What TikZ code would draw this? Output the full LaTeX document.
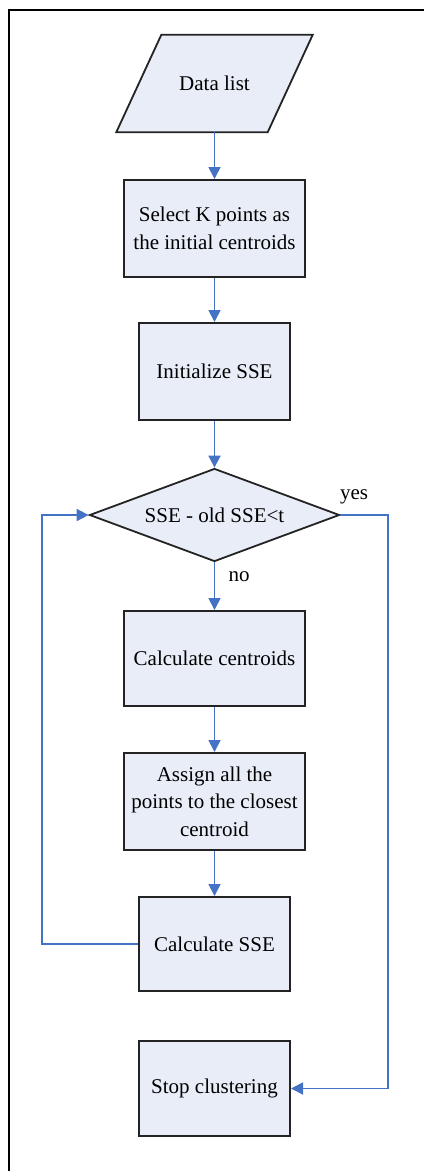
\documentclass[tikz,border=0pt]{standalone}
\usepackage{fontspec}
\setmainfont{Liberation Serif}
\usetikzlibrary{shapes.geometric,arrows.meta,calc}
\definecolor{boxfill}{RGB}{232,237,247}
\definecolor{linkblue}{RGB}{68,114,196}
\definecolor{boxline}{RGB}{35,35,35}
\begin{document}
\begin{tikzpicture}[x=1pt,y=-1pt,
  every node/.style={font=\fontsize{21}{27.5}\selectfont},
  stepbox/.style={draw=boxline,line width=2pt,fill=boxfill,rectangle,align=center,inner sep=0pt},
  decide/.style={draw=boxline,line width=1.8pt,fill=boxfill,diamond,inner sep=0pt,aspect=2.69,minimum width=250pt,minimum height=93pt},
  link/.style={draw=linkblue,line width=1.8pt,-{Triangle[width=12pt,length=12pt]}},
  lbl/.style={inner sep=0pt}]
\useasboundingbox (0,0) rectangle (424,1171);
\draw[line width=2.2pt] (9,1171) -- (9,10) -- (424,10);

% data list (parallelogram)
\node[inner sep=0pt,minimum width=151pt,minimum height=97pt] (data) at (214.5,83.5) {};
\draw[draw=boxline,line width=1.8pt,fill=boxfill]
  ($(data.north west)+(22.5,0)$) -- ($(data.north east)+(22.5,0)$) --
  ($(data.south east)+(-22.5,0)$) -- ($(data.south west)+(-22.5,0)$) -- cycle;
\node[inner sep=0pt] (datatext) at (data.center) {Data list};

\node[stepbox,minimum width=181pt,minimum height=97pt] (sel) at (214.5,228.5) {Select K points as\\the initial centroids};
\node[stepbox,minimum width=151pt,minimum height=97pt] (init) at (214.5,371.5) {Initialize SSE};
\node[decide] (diam) at (214.5,515) {SSE - old SSE<t};
\node[stepbox,minimum width=181pt,minimum height=95pt] (cent) at (214.5,658.5) {Calculate centroids};
\node[stepbox,minimum width=181pt,minimum height=97pt] (assign) at (214.5,801.5) {Assign all the\\points to the closest\\centroid};
\node[stepbox,minimum width=151pt,minimum height=94pt] (csse) at (214.5,944) {Calculate SSE};
\node[stepbox,minimum width=151pt,minimum height=95pt] (stop) at (214.5,1088.5) {Stop clustering};

\draw[link] (data.south) -- (sel.north);
\draw[link] (sel.south) -- (init.north);
\draw[link] (init.south) -- (diam.north);
\draw[link] (diam.south) -- (cent.north);
\draw[link] (cent.south) -- (assign.north);
\draw[link] (assign.south) -- (csse.north);
\draw[link] (csse.west) -- ++(-96,0) |- (diam.west);
\draw[link] (diam.east) -- ++(47.5,0) |- (stop.east);

\node[lbl] (yes) at (354,497) {yes};
\node[lbl] (no) at (239,577) {no};
\end{tikzpicture}
\end{document}
